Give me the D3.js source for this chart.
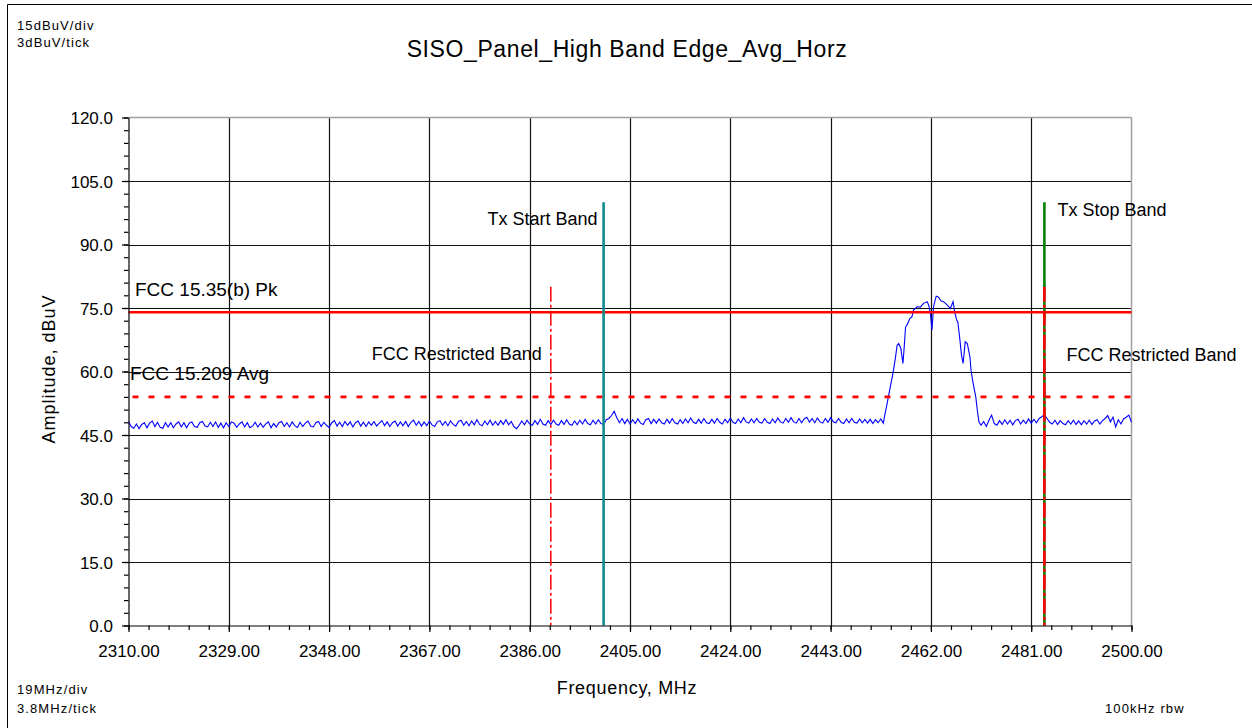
<!DOCTYPE html>
<html>
<head>
<meta charset="utf-8">
<script src="https://cdn.jsdelivr.net/npm/d3@7"></script>
<style>
  html, body { margin: 0; padding: 0; background: #fff; }
  svg { display: block; font-family: "Liberation Sans", Arial, sans-serif; }
</style>
</head>
<body>
<svg id="chart" width="1252" height="728"></svg>
<script>
// ---- chart data ----
const chartTitle = "SISO_Panel_High Band Edge_Avg_Horz";
const freqDomain = [2310, 2500];
const ampDomain = [0, 120];
const xTickValues = [2310, 2329, 2348, 2367, 2386, 2405, 2424, 2443, 2462, 2481, 2500];
const yTickValues = [0, 15, 30, 45, 60, 75, 90, 105, 120];
const xMinorStep = 3.8;   // MHz per minor tick
const yMinorStep = 3;     // dBuV per minor tick

// Sweep below the carrier: 0.5 MHz bins starting at 2310 MHz (dBuV)
const lowSweepStart = 2310;
const sweepStep = 0.5;
const lowSweepAmp = [
  48.2, 47.0, 46.6, 47.6, 46.5, 47.5, 47.9, 46.7, 47.8, 48.3, 47.0, 48.0, 46.8, 46.6, 47.9, 46.9, 47.9, 46.7, 47.6, 48.1,
  46.9, 47.9, 46.7, 47.8, 48.1, 47.0, 46.8, 47.9, 48.2, 47.1, 46.9, 48.0, 47.0, 48.1, 46.8, 47.8, 46.7, 47.9, 47.0, 48.1,
  47.8, 46.8, 47.6, 48.1, 46.9, 47.9, 46.7, 47.1, 48.0, 46.9, 47.8, 46.8, 47.6, 48.1, 46.7, 47.7, 46.9, 47.9, 48.2, 47.0,
  47.9, 46.9, 48.1, 47.2, 46.8, 48.0, 47.0, 47.8, 48.3, 47.1, 46.9, 47.9, 48.2, 47.0, 48.0, 47.3, 46.8, 47.9, 48.4, 47.1,
  48.0, 47.0, 48.2, 47.3, 48.1, 46.9, 47.9, 48.3, 47.1, 48.0, 47.0, 48.1, 47.3, 48.2, 47.1, 47.8, 48.4, 47.2, 48.1, 47.0,
  47.9, 48.3, 47.1, 48.1, 47.2, 48.2, 47.0, 48.0, 48.5, 47.3, 48.2, 47.1, 48.1, 47.2, 48.3, 47.4, 47.0, 48.1, 48.4, 47.3,
  48.2, 47.2, 48.3, 47.5, 47.1, 48.2, 48.5, 47.3, 48.2, 47.2, 48.3, 47.4, 48.6, 47.5, 47.2, 48.3, 47.4, 48.5, 47.3, 48.2,
  47.3, 48.4, 47.5, 48.6, 47.4, 48.2, 47.0, 46.5, 47.3, 48.3, 47.4, 48.5, 47.6, 47.3, 48.4, 47.5, 48.7, 47.6, 47.3, 48.4,
  47.5, 48.5, 47.6, 47.3, 48.4, 47.5, 48.6, 47.6, 47.3, 48.3, 47.4, 48.5, 47.6, 48.7, 47.7, 47.4, 48.5, 47.6, 48.6, 47.7,
  47.5, 48.6, 48.9, 49.6, 50.6, 49.1, 47.9, 48.9, 47.7, 48.7, 47.6, 48.6, 47.7, 48.8, 47.8, 47.5, 48.6, 48.9, 47.7, 48.7,
  47.8, 48.8, 47.9, 47.6, 48.7, 47.8, 48.9, 47.9, 47.6, 48.6, 47.7, 48.8, 47.9, 49.0, 48.0, 47.7, 48.7, 47.8, 48.9, 47.9,
  47.7, 48.7, 47.8, 48.9, 48.0, 47.6, 48.7, 47.9, 49.0, 48.0, 47.7, 48.8, 47.9, 49.1, 48.1, 47.8, 48.8, 47.9, 48.9, 48.0,
  47.8, 48.9, 48.0, 47.7, 48.8, 47.9, 49.0, 48.1, 47.8, 48.9, 48.0, 49.1, 48.1, 47.8, 48.9, 47.9, 48.8, 49.2, 48.0, 48.9,
  47.9, 49.0, 48.1, 47.8, 48.9, 48.0, 49.1, 48.1, 47.9, 48.9, 48.0, 47.7, 48.8, 47.9, 48.9, 48.0, 47.8, 48.8, 47.9, 48.7,
  47.8, 48.7, 47.7, 48.6, 47.9, 48.8, 47.8
];

// Carrier (2462 MHz channel) points, MHz and dBuV
const carrierFreq = [
  2453.2, 2453.7, 2454.3, 2454.8, 2455.3, 2455.6, 2455.9, 2456.3, 2456.7, 2456.9, 2457.2,
  2457.6, 2458.0, 2458.4, 2458.7, 2459.4, 2460.0, 2460.6, 2461.3, 2461.6, 2461.9, 2462.2,
  2462.5, 2463.0, 2463.4, 2463.9, 2464.4, 2465.1, 2465.7, 2466.2, 2466.5, 2466.9, 2467.1,
  2467.5, 2467.8, 2468.1, 2468.5, 2468.9, 2469.4, 2469.6, 2470.0, 2470.5, 2470.8, 2471.1
];
const carrierAmp = [
  49.3, 52.4, 56.3, 59.5, 63.4, 66.2, 66.6, 65.5, 61.9, 65.0, 70.5,
  71.3, 72.5, 72.9, 74.5, 75.3, 75.2, 76.1, 76.5, 75.6, 73.8, 69.8,
  75.3, 77.8, 77.6, 76.7, 76.5, 75.7, 74.9, 76.5, 74.1, 72.1, 71.7,
  67.4, 63.8, 61.9, 67.0, 66.6, 63.4, 60.3, 57.2, 54.0, 50.8, 48.1
];

// Sweep above the carrier: 0.5 MHz bins starting at 2471.5 MHz (dBuV)
const highSweepStart = 2471.5;
const highSweepAmp = [
  47.3, 48.2, 47.0, 48.5, 49.7, 47.7, 47.3, 48.4, 47.5, 48.6, 47.6, 48.5, 47.4, 48.4, 48.7, 47.6, 48.5, 47.7, 48.8, 47.8,
  48.7, 47.9, 48.9, 49.3, 49.8, 48.9, 48.0, 47.6, 48.5, 47.5, 48.4, 47.7, 47.4, 48.4, 47.6, 48.5, 47.5, 48.3, 47.4, 48.4,
  47.6, 48.5, 47.5, 48.3, 48.6, 47.6, 48.4, 48.9, 49.6, 48.1, 49.2, 46.9, 48.6, 47.6, 48.8, 49.2, 49.7, 48.0
];

// Regulatory limits (dBuV)
const limitLabels = ["FCC 15.35(b) Pk", "FCC 15.209 Avg"];
const limitLevels = [74, 54];

// Band markers: frequency (MHz) and top level (dBuV)
const txMarkerLabels = ["Tx Start Band", "Tx Stop Band"];
const txMarkerFreq = [2400, 2483.5];
const txMarkerTop = [100, 100];
const restrictedLabels = ["FCC Restricted Band", "FCC Restricted Band"];
const restrictedFreq = [2390, 2483.5];
const restrictedTop = [80, 80];

// ---- drawing ----
const svg = d3.select("#chart");
const FONT = '"Liberation Sans", Arial, sans-serif';

const x = d3.scaleLinear().domain(freqDomain).range([128.5, 1131.5]);
const y = d3.scaleLinear().domain(ampDomain).range([625.5, 117.5]);

// outer frame (top and left edges)
svg.append("line").attr("x1", 7.5).attr("x2", 1252).attr("y1", 4.5).attr("y2", 4.5)
  .attr("stroke", "#000").attr("stroke-width", 1);
svg.append("line").attr("x1", 7.5).attr("x2", 7.5).attr("y1", 4.5).attr("y2", 728)
  .attr("stroke", "#000").attr("stroke-width", 1);

// grid
const grid = svg.append("g");
grid.selectAll("line.gx").data(xTickValues.slice(1, -1)).join("line")
  .attr("class", "gx")
  .attr("x1", d => Math.round(x(d)) + 0.5).attr("x2", d => Math.round(x(d)) + 0.5)
  .attr("y1", y(ampDomain[0])).attr("y2", y(ampDomain[1]))
  .attr("stroke", "#111").attr("stroke-width", 1.2);
grid.selectAll("line.gy").data(yTickValues.slice(1, -1)).join("line")
  .attr("class", "gy")
  .attr("x1", x(freqDomain[0])).attr("x2", x(freqDomain[1]))
  .attr("y1", d => Math.round(y(d)) + 0.5).attr("y2", d => Math.round(y(d)) + 0.5)
  .attr("stroke", "#111").attr("stroke-width", 1.2);
// top and right plot borders
grid.append("line").attr("x1", x(freqDomain[0])).attr("x2", x(freqDomain[1]))
  .attr("y1", y(ampDomain[1])).attr("y2", y(ampDomain[1]))
  .attr("stroke", "#a0a0a0").attr("stroke-width", 1.5);
grid.append("line").attr("x1", x(freqDomain[1])).attr("x2", x(freqDomain[1]))
  .attr("y1", y(ampDomain[0])).attr("y2", y(ampDomain[1]))
  .attr("stroke", "#a0a0a0").attr("stroke-width", 1.5);

// measured trace
const trace = [];
lowSweepAmp.forEach((a, i) => trace.push({ f: lowSweepStart + i * sweepStep, a }));
carrierFreq.forEach((f, i) => trace.push({ f, a: carrierAmp[i] }));
highSweepAmp.forEach((a, i) => trace.push({ f: highSweepStart + i * sweepStep, a }));

svg.append("path")
  .datum(trace)
  .attr("fill", "none")
  .attr("stroke", "#0000ff")
  .attr("stroke-width", 1.1)
  .attr("stroke-linejoin", "miter")
  .attr("d", d3.line().x(d => x(d.f)).y(d => y(d.a)));

// limit lines
svg.append("line")
  .attr("x1", x(freqDomain[0])).attr("x2", x(freqDomain[1]))
  .attr("y1", y(limitLevels[0])).attr("y2", y(limitLevels[0]))
  .attr("stroke", "#ff0000").attr("stroke-width", 2.6);
svg.append("line")
  .attr("x1", x(freqDomain[0]) + 4).attr("x2", x(freqDomain[1]))
  .attr("y1", y(limitLevels[1])).attr("y2", y(limitLevels[1]))
  .attr("stroke", "#ff0000").attr("stroke-width", 2.6)
  .attr("stroke-dasharray", "6,10");

// Tx band markers
const txColors = ["#108a8a", "#008000"];
txMarkerFreq.forEach((f, i) => {
  svg.append("line")
    .attr("x1", x(f)).attr("x2", x(f))
    .attr("y1", y(txMarkerTop[i])).attr("y2", y(ampDomain[0]))
    .attr("stroke", txColors[i]).attr("stroke-width", 2.6);
});

// restricted band edges (dash-dot)
const restrictedWidth = [1.5, 2.6];
restrictedFreq.forEach((f, i) => {
  svg.append("line")
    .attr("x1", x(f)).attr("x2", x(f))
    .attr("y1", y(restrictedTop[i])).attr("y2", y(ampDomain[0]))
    .attr("stroke", "#ff0000").attr("stroke-width", restrictedWidth[i])
    .attr("stroke-dasharray", "15,3,3,3");
});

// axes
const yAxis = d3.axisLeft(y).tickValues(yTickValues).tickFormat(d3.format(".1f"))
  .tickSize(6.5).tickSizeOuter(0).tickPadding(9);
const yMinor = d3.axisLeft(y).tickValues(d3.range(ampDomain[0], ampDomain[1] + 0.001, yMinorStep))
  .tickFormat("").tickSize(4.5).tickSizeOuter(0);
const xAxis = d3.axisBottom(x).tickValues(xTickValues).tickFormat(d3.format(".2f"))
  .tickSize(6.5).tickSizeOuter(0).tickPadding(13.4);
const xMinor = d3.axisBottom(x).tickValues(d3.range(freqDomain[0], freqDomain[1] + 0.001, xMinorStep))
  .tickFormat("").tickSize(4.5).tickSizeOuter(0);

function styleAxis(g) {
  g.selectAll("path.domain").attr("stroke", "#000").attr("stroke-width", 1.2);
  g.selectAll(".tick line").attr("stroke", "#000").attr("stroke-width", 1.2);
  g.selectAll(".tick text").attr("fill", "#000").style("font-family", FONT).style("font-size", "17px");
}
const gyMinor = svg.append("g").attr("transform", `translate(${x(freqDomain[0])},0)`).call(yMinor).call(styleAxis);
gyMinor.select("path.domain").remove();
const gy = svg.append("g").attr("transform", `translate(${x(freqDomain[0])},0)`).call(yAxis).call(styleAxis);
gy.selectAll(".tick text").attr("dy", "0.38em");
const gxMinor = svg.append("g").attr("transform", `translate(0,${y(ampDomain[0])})`).call(xMinor).call(styleAxis);
gxMinor.select("path.domain").remove();
const gx = svg.append("g").attr("transform", `translate(0,${y(ampDomain[0])})`).call(xAxis).call(styleAxis);

// text
function label(txt, px, py, size, anchor, spacing) {
  return svg.append("text")
    .attr("x", px).attr("y", py)
    .attr("text-anchor", anchor || "start")
    .style("font-family", FONT)
    .style("font-size", size + "px")
    .style("letter-spacing", (spacing || 0) + "px")
    .attr("fill", "#000")
    .text(txt);
}

label(chartTitle, 627, 57, 23, "middle", 0.6);
label("15dBuV/div", 17, 29.5, 13, "start", 1.1);
label("3dBuV/tick", 17, 46.5, 13, "start", 1.1);
label("19MHz/div", 17, 694, 13, "start", 1.1);
label("3.8MHz/tick", 17, 712.5, 13, "start", 1.1);
label("100kHz rbw", 1105, 712.5, 13, "start", 1.1);
label("Frequency, MHz", 627, 694, 18, "middle", 0.7);
svg.append("text")
  .attr("transform", "translate(55,369) rotate(-90)")
  .attr("text-anchor", "middle")
  .style("font-family", FONT).style("font-size", "18px").style("letter-spacing", "1px")
  .text("Amplitude, dBuV");

// limit labels
label(limitLabels[0], 135, 296, 19, "start", 0);
label(limitLabels[1], 130, 380, 19, "start", 0);

// marker labels
label(txMarkerLabels[0], x(txMarkerFreq[0]) - 6, 225, 18, "end", 0);
label(txMarkerLabels[1], x(txMarkerFreq[1]) + 13, 216, 18, "start", 0);
label(restrictedLabels[0], x(restrictedFreq[0]) - 179, 360, 18, "start", 0);
label(restrictedLabels[1], x(restrictedFreq[1]) + 22, 361, 18, "start", 0);
</script>
</body>
</html>
